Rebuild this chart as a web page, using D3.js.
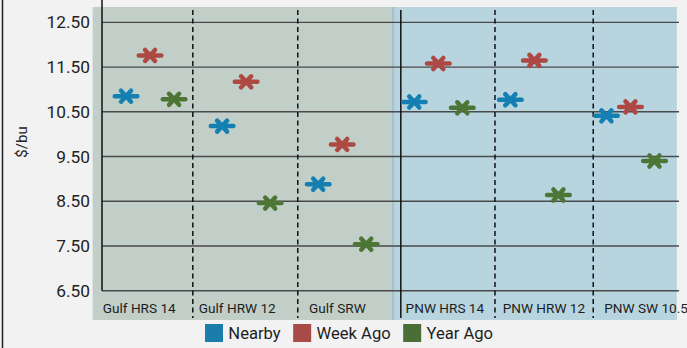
<!DOCTYPE html>
<html>
<head>
<meta charset="utf-8">
<script src="https://cdn.jsdelivr.net/npm/d3@7"></script>
<style>
  html, body { margin: 0; padding: 0; background: #f2f2f2; }
  svg { display: block; font-family: Roboto, "Noto Sans", sans-serif; }
</style>
</head>
<body>
<svg id="chart" width="687" height="348"></svg>
<script>
// Wheat export bids, $/bu
const categories = ["Gulf HRS 14", "Gulf HRW 12", "Gulf SRW", "PNW HRS 14", "PNW HRW 12", "PNW SW 10.5"];
const nearby  = [10.85, 10.18, 8.88, 10.72, 10.77, 10.41];
const weekAgo = [11.76, 11.17, 9.77, 11.58, 11.65, 10.61];
const yearAgo = [10.78, 8.46, 7.54, 10.59, 8.64, 9.40];
const seriesNames = ["Nearby", "Week Ago", "Year Ago"];
const yTicks = [6.5, 7.5, 8.5, 9.5, 10.5, 11.5, 12.5];

const colors = ["#137fb2", "#ad4843", "#4d7535"];
const legendColors = ["#1a7dac", "#a84a47", "#4b6e37"];
const series = [nearby, weekAgo, yearAgo];

const svg = d3.select("#chart");
const W = 687, H = 348;

// Left frame line
svg.append("line")
  .attr("x1", 2.5).attr("x2", 2.5).attr("y1", 0).attr("y2", H)
  .attr("stroke", "#222").attr("stroke-width", 1.5);

// Each group of three readings occupies four units on the x axis
const x = d3.scaleLinear().domain([0, 24]).range([102, 678.5]);
const y = d3.scaleLinear().domain([6.5, 13]).range([290.7, 0]);

// Port regions (Gulf / PNW), dividers between grades, label anchors (x units)
const regionBands = [
  { from: -0.39, to: 12.1, fill: "#c1cfc8" },
  { from: 12.1, to: 23.93, fill: "#b7d4df" }
];
const dividerAt = [3.78, 8.15, 12.44, 16.36, 20.45];
const labelAt = [0.03, 4.03, 8.62, 12.64, 16.68, 20.91];

svg.selectAll("rect.band").data(regionBands).join("rect")
  .attr("class", "band")
  .attr("x", d => x(d.from)).attr("width", d => x(d.to) - x(d.from))
  .attr("y", 7).attr("height", 313)
  .attr("fill", d => d.fill);

// soft edge on the PNW region
svg.append("line")
  .attr("x1", x(12.1) + 0.5).attr("x2", x(12.1) + 0.5)
  .attr("y1", 7).attr("y2", 320)
  .attr("stroke", "#9fc4d2").attr("stroke-width", 2.2);

// Horizontal gridlines
svg.selectAll("line.grid").data(yTicks).join("line")
  .attr("class", "grid")
  .attr("x1", x(0)).attr("x2", x(24) + 0.5)
  .attr("y1", d => y(d)).attr("y2", d => y(d))
  .attr("stroke", "#4a4a4a").attr("stroke-width", 1.4);

// Y axis
const yAxis = d3.axisLeft(y).tickValues(yTicks).tickFormat(d3.format(".2f")).tickSize(0).tickPadding(12);
const gy = svg.append("g").attr("transform", `translate(${x(0)},0)`).call(yAxis);
gy.select(".domain").remove();
gy.selectAll("text")
  .attr("font-size", 17.3).attr("fill", "#222")
  .attr("font-family", "Roboto, sans-serif");
svg.append("line")
  .attr("x1", x(0)).attr("x2", x(0)).attr("y1", 0).attr("y2", y(6.5))
  .attr("stroke", "#111").attr("stroke-width", 1.5);

// Axis title
svg.append("text")
  .attr("transform", "translate(22,142) rotate(-90)")
  .attr("text-anchor", "middle").attr("dominant-baseline", "central")
  .attr("font-size", 15).attr("fill", "#222")
  .text("$/bu");

// Dividers between grades (solid one separates the two ports)
svg.selectAll("line.divider").data(dividerAt).join("line")
  .attr("class", "divider")
  .attr("x1", d => x(d)).attr("x2", d => x(d))
  .attr("y1", 10).attr("y2", 318)
  .attr("stroke", "#111").attr("stroke-width", 1.5)
  .attr("stroke-dasharray", (d, i) => i === 2 ? null : "5,3.5");

// Category labels
svg.selectAll("text.cat").data(categories).join("text")
  .attr("class", "cat")
  .attr("x", (d, i) => x(labelAt[i]))
  .attr("y", 313.3)
  .attr("font-size", 13.6).attr("fill", "#1e1e1e")
  .text(d => d);

// Asterisk markers
const star = "M-11.3,0L11.3,0M-5,-5.5L5,5.5M-5,5.5L5,-5.5";
series.forEach((vals, s) => {
  svg.selectAll(`path.s${s}`).data(vals).join("path")
    .attr("class", `s${s}`)
    .attr("d", star)
    .attr("transform", (v, i) => `translate(${x(4 * i + s + 1)},${y(v)})`)
    .attr("fill", "none")
    .attr("stroke", colors[s])
    .attr("stroke-width", 4.5)
    .attr("stroke-linecap", "round");
});

// Legend
const legend = svg.append("g").attr("transform", "translate(205,324)");
let lx = 0;
seriesNames.forEach((name, s) => {
  const g = legend.append("g").attr("transform", `translate(${lx},0)`);
  g.append("rect").attr("width", 18).attr("height", 18).attr("fill", legendColors[s]);
  const t = g.append("text")
    .attr("x", 23.3).attr("y", 14.7)
    .attr("font-size", 16.6).attr("fill", "#1e1e1e")
    .text(name);
  lx += 23.3 + t.node().getComputedTextLength() + 12.5;
});
</script>
</body>
</html>
